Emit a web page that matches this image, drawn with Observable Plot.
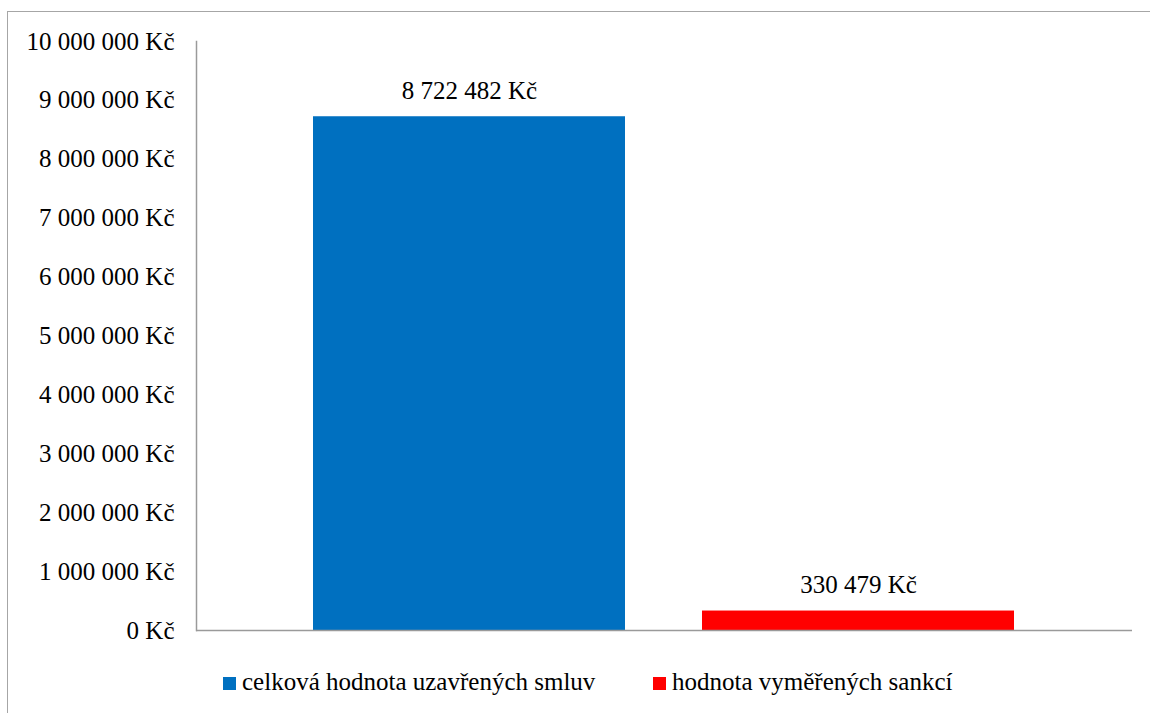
<!DOCTYPE html>
<html>
<head>
<meta charset="utf-8">
<script src="https://cdn.jsdelivr.net/npm/d3@7"></script>
<script src="https://cdn.jsdelivr.net/npm/@observablehq/plot@0.6"></script>
<style>
  html, body { margin: 0; padding: 0; background: #fff; }
  #wrap { position: relative; width: 1150px; height: 713px; overflow: hidden; font-family: "Liberation Serif", "Times New Roman", serif; }
  #frame { position: absolute; left: 7px; top: 11px; width: 1200px; height: 800px; border: 1.5px solid #a6a6a6; box-sizing: border-box; }
  #chart { position: absolute; left: 0; top: 0; }
  .leg { position: absolute; top: 667px; font-size: 25px; color: #000; white-space: nowrap; line-height: 30px; }
  .sw { position: absolute; width: 13px; height: 13px; top: 677px; }
</style>
</head>
<body>
<div id="wrap">
  <div id="frame"></div>
  <div id="chart"></div>
</div>
<script>
const series = ["celková hodnota uzavřených smluv", "hodnota vyměřených sankcí"];
const values = [8722482, 330479];
const colors = ["#0070C0", "#FF0000"];
const yTicks = [0, 1000000, 2000000, 3000000, 4000000, 5000000, 6000000, 7000000, 8000000, 9000000, 10000000];

const locale = d3.formatLocale({decimal: ",", thousands: " ", grouping: [3], currency: ["", " Kč"]});
const fmt = v => locale.format(",")(v) + " Kč";

const data = series.map((s, i) => ({series: s, value: values[i]}));

const plot = Plot.plot({
  width: 1150,
  height: 650,
  marginTop: 41,
  marginBottom: 20,
  marginLeft: 196,
  marginRight: 18,
  style: {fontFamily: "'Liberation Serif', 'Times New Roman', serif", fontSize: "25px", color: "#000", background: "transparent"},
  x: {domain: series, paddingInner: 0.197, paddingOuter: 0.3, axis: null},
  y: {domain: [0, 10000000], ticks: yTicks, tickFormat: fmt},
  color: {domain: series, range: colors},
  marks: [
    Plot.barY(data, {x: "series", y: "value", fill: "series"}),
    Plot.axisY({ticks: yTicks, tickFormat: fmt, tickSize: 0, tickPadding: 22, label: null, fontSize: 25, fill: "#000"}),
    Plot.frame({anchor: "left", stroke: "#9a9a9a", strokeWidth: 1.5}),
    Plot.ruleY([0], {stroke: "#9a9a9a", strokeWidth: 1.5}),
    Plot.text(data, {x: "series", y: "value", text: d => fmt(d.value), dy: -26, lineAnchor: "middle", textAnchor: "middle", fontSize: 25, fill: "#000"})
  ]
});
document.getElementById("chart").appendChild(plot);

const wrap = document.getElementById("wrap");
const legX = [223, 653];
series.forEach((s, i) => {
  const sw = document.createElement("div");
  sw.className = "sw";
  sw.style.left = legX[i] + "px";
  sw.style.background = colors[i];
  wrap.appendChild(sw);
  const t = document.createElement("div");
  t.className = "leg";
  t.style.left = (legX[i] + 19) + "px";
  t.textContent = s;
  wrap.appendChild(t);
});
</script>
</body>
</html>
